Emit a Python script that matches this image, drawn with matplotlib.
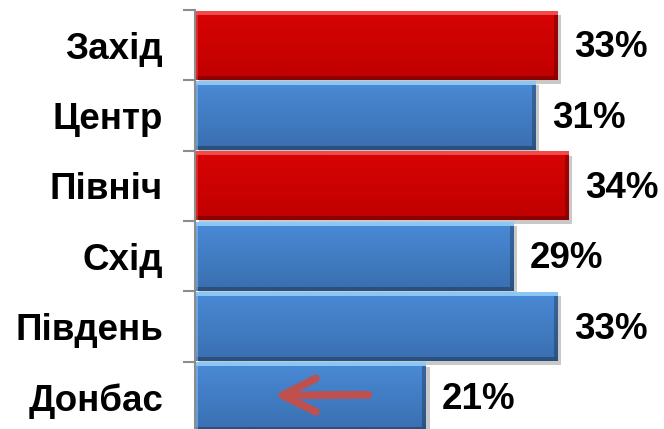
import numpy as np
import matplotlib
matplotlib.use("Agg")
from matplotlib import pyplot as plt
from matplotlib import patheffects as pe

regions = ["Захід", "Центр", "Північ", "Схід", "Південь", "Донбас"]
shares = [33, 31, 34, 29, 33, 21]
labels = ["33%", "31%", "34%", "29%", "33%", "21%"]
highlight = [True, False, True, False, False, False]

plt.rcParams['font.family'] = ['Liberation Sans', 'DejaVu Sans']

fig = plt.figure(figsize=(6.64, 4.29), dpi=100)
ax = fig.add_axes([195/664, -3/429, 469/664, 422/429])

RED = dict(top="#f24a4a", body_hi="#d80404", body_lo="#c00000", bottom="#8e0000")
BLUE = dict(top="#8cc6f5", body_hi="#4a8ad6", body_lo="#3a6fb0", bottom="#2a5080")


def hex2rgb(h):
    return np.array(matplotlib.colors.to_rgb(h))


def bar_image(w, h, c):
    # vertical gradient with a bevelled frame, roughly like the office style
    t = np.linspace(0, 1, h)[:, None, None]
    img = hex2rgb(c["body_hi"]) * (1 - t) + hex2rgb(c["body_lo"]) * t
    img = np.repeat(img, w, axis=1)
    b = 4
    img[:b, :] = hex2rgb(c["top"])
    img[-b:, :] = hex2rgb(c["bottom"])
    img[:, :3] = img[:, :3] * 0.5 + hex2rgb(c["top"]) * 0.5
    img[b:-b, -b:] = img[b:-b, -b:] * 0.75
    return np.clip(img, 0, 1)


height = 0.98
bars = ax.barh(range(len(regions)), shares, height=height, color="none",
               edgecolor="none")
px = 469 / 42.75
for bar, val, hl in zip(bars, shares, highlight):
    y = bar.get_y()
    shadow = ax.barh(y + height / 2, val, height=height, color="white",
                     zorder=1)[0]
    shadow.set_path_effects([pe.SimplePatchShadow(offset=(3, -3), alpha=0.35,
                                                  shadow_rgbFace="#666666"),
                             pe.Normal()])
    img = bar_image(int(val * px), 69, RED if hl else BLUE)
    im = ax.imshow(img, extent=(0, val, y + height, y), origin="upper",
                   aspect="auto", zorder=2, interpolation="bilinear")
    im.set_clip_path(bar)

for bar, lab in zip(bars, labels):
    ax.annotate(lab, (bar.get_width(), bar.get_y() + height / 2),
                xytext=(12, -2), textcoords="offset points",
                ha="left", va="center", fontsize=26.5, fontweight="bold")

# arrow inside the Donbas bar
ax.annotate("", xy=(7.2, 4.98), xytext=(15.8, 4.97),
            arrowprops=dict(arrowstyle="->,head_length=1.2,head_width=0.6",
                            mutation_scale=20, color="#c0504d", lw=5.5,
                            shrinkA=0, shrinkB=0, capstyle="round",
                            joinstyle="round"),
            zorder=5)

ax.set_xlim(0, 42.75)
ax.set_ylim(5.5, -0.5)
ax.set_yticks(np.arange(-0.5, 5.5, 1), minor=False)
ax.set_yticklabels([])
ax.set_yticks(range(len(regions)), minor=True)
ax.set_yticklabels(regions, minor=True, fontsize=26.5, fontweight="bold")
ax.tick_params(axis="y", which="minor", length=0, pad=23)
ax.tick_params(axis="y", which="major", length=9, width=1.5, color="#8c8c8c")
ax.set_xticks([])
for s in ["top", "right", "bottom"]:
    ax.spines[s].set_visible(False)
ax.spines["left"].set_color("#8c8c8c")
ax.spines["left"].set_linewidth(1.5)

fig.savefig("out.png", dpi=100)
